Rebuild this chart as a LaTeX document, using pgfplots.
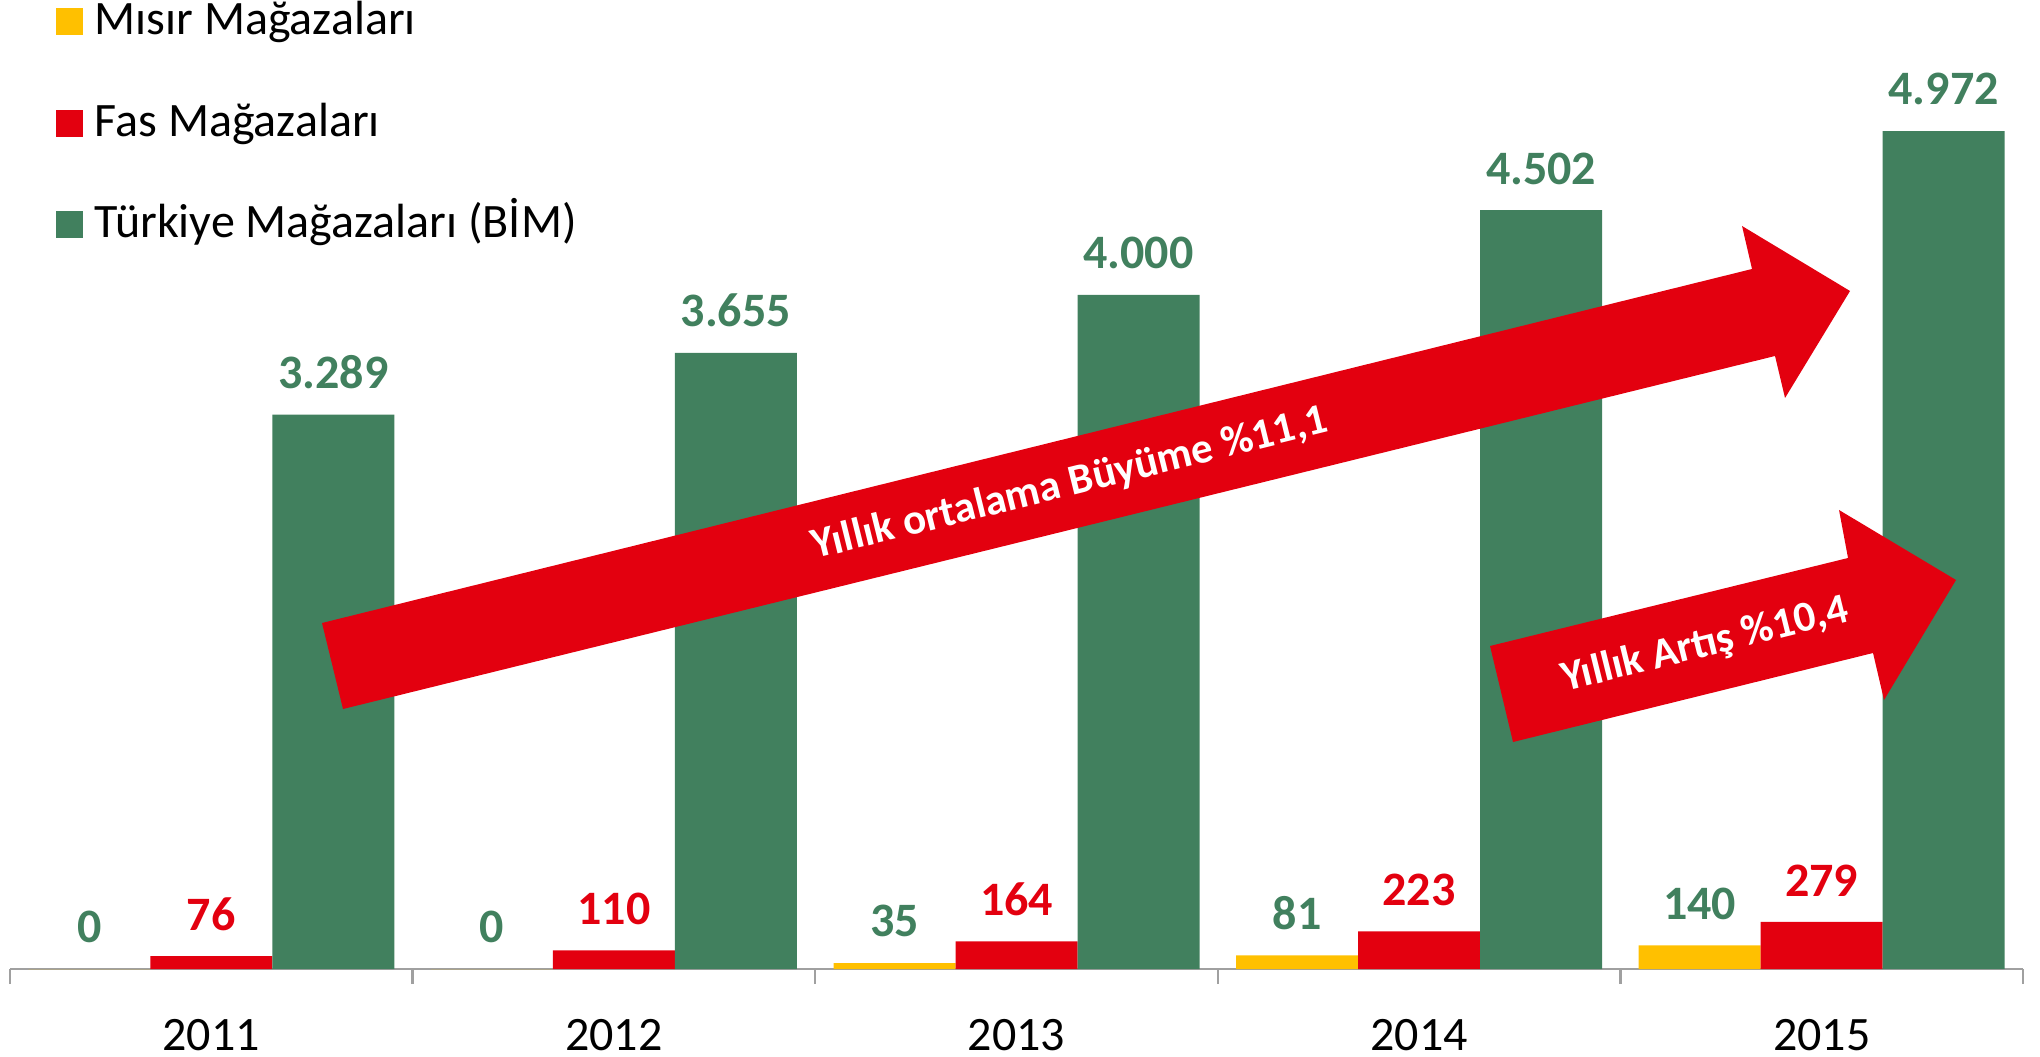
\documentclass[border=0pt]{standalone}
\usepackage{fontspec}
\setmainfont{Carlito}
\usepackage{pgfplots}
\pgfplotsset{compat=1.18}
\definecolor{bgreen}{RGB}{65,128,94}
\definecolor{bred}{RGB}{227,0,15}
\definecolor{byellow}{RGB}{255,192,0}
\definecolor{axgray}{RGB}{160,160,160}

\begin{document}
\begin{tikzpicture}
\useasboundingbox (0,0) rectangle (510pt,-264.25pt);
\begin{axis}[
  at={(2.5pt,-242.25pt)}, anchor=south west,
  scale only axis, width=503.25pt, height=231.75pt,
  ybar=0pt, bar width=30.5pt,
  xmin=-0.5, xmax=4.5, ymin=0, ymax=5500,
  axis x line=bottom, axis y line=none,
  x axis line style={-, draw=axgray, line width=0.6pt},
  xtick={0,1,2,3,4},
  xticklabels={2011,2012,2013,2014,2015},
  major tick length=0pt,
  minor xtick={-0.5,0.5,1.5,2.5,3.5,4.5},
  minor tick length=3.75pt,
  tick align=outside,
  minor tick style={draw=axgray, line width=0.6pt},
  xticklabel style={font=\fontsize{12}{14}\selectfont, anchor=north, inner sep=0pt, yshift=-12.5pt},
  ymajorticks=false,
  /pgf/number format/.cd, fixed, precision=0, 1000 sep={.}, assume math mode=true,
  /pgfplots/.cd,
  nodes near coords,
  nodes near coords style={font=\bfseries\fontsize{12}{14}\selectfont, inner sep=0pt, anchor=south, yshift=6.25pt},
  clip=false,
]
\addplot[fill=byellow, draw=none, nodes near coords style={text=bgreen}] coordinates {(0,0) (1,0) (2,35) (3,81) (4,140)};
\addplot[fill=bred, draw=none, nodes near coords style={text=bred}] coordinates {(0,76) (1,110) (2,164) (3,223) (4,279)};
\addplot[fill=bgreen, draw=none, nodes near coords style={text=bgreen}] coordinates {(0,3289) (1,3655) (2,4000) (3,4502) (4,4972)};
\end{axis}
\begin{scope}[x=0.25pt,y=-0.25pt]
  % legend
  \fill[byellow] (56,8) rectangle (83,35);
  \node[anchor=base west, inner sep=0pt] at (94,35) {\fontsize{12}{14}\selectfont Mısır Mağazaları};
  \fill[bred] (56,110) rectangle (83,137);
  \node[anchor=base west, inner sep=0pt] at (94,137) {\fontsize{12}{14}\selectfont Fas Mağazaları};
  \fill[bgreen] (56,211) rectangle (83,238);
  \node[anchor=base west, inner sep=0pt] at (94,238) {\fontsize{12}{14}\selectfont Türkiye Mağazaları (BİM)};
  % big arrow
  \fill[bred] (322,623) -- (1752,269) -- (1742,226) -- (1850,291) -- (1785,398) -- (1775,356) -- (343,709) -- cycle;
  \node[rotate=13.9, text=white, inner sep=0pt, font=\bfseries\fontsize{10.75}{12}\selectfont] at (1070,484) {Yıllık ortalama Büyüme \%11,1};
  % small arrow
  \fill[bred] (1490,646) -- (1848,558) -- (1839,510) -- (1956,580) -- (1884,700) -- (1873,653) -- (1513,742) -- cycle;
  \node[rotate=13.9, text=white, inner sep=0pt, font=\bfseries\fontsize{10.75}{12}\selectfont] at (1705,645) {Yıllık Artış \%10,4};
\end{scope}
\end{tikzpicture}
\end{document}
